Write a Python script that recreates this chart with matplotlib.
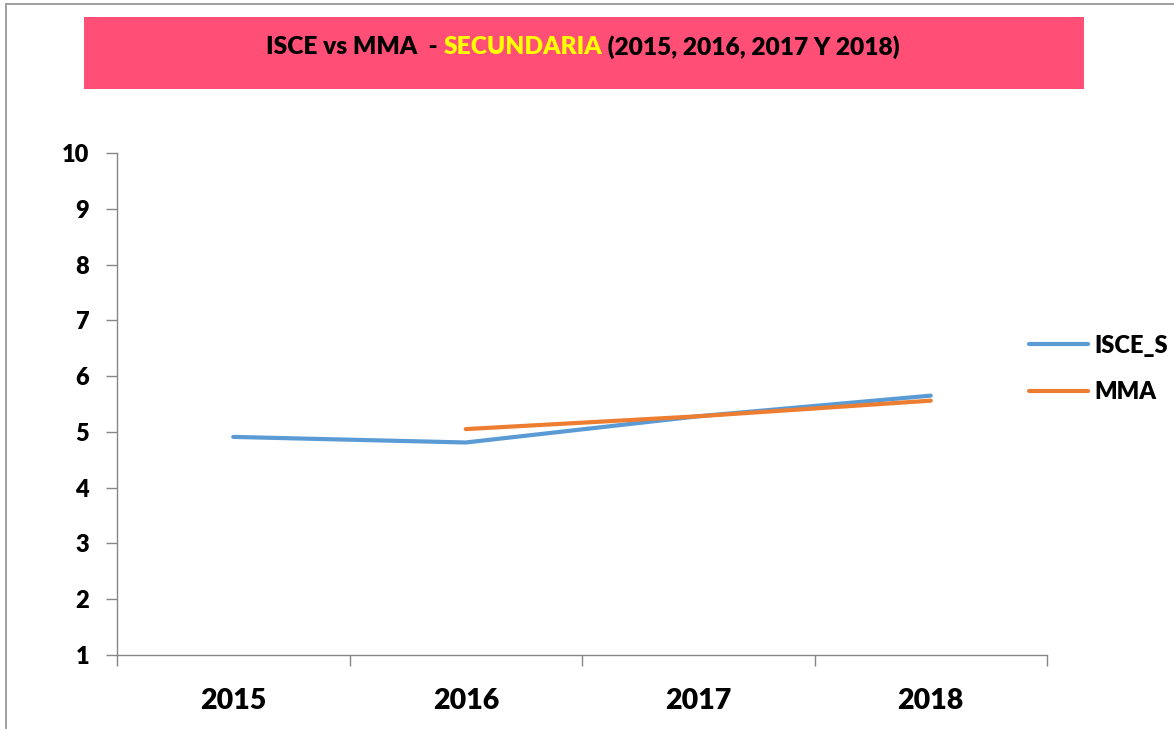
import matplotlib
matplotlib.use("Agg")
import matplotlib.pyplot as plt
from matplotlib.patches import Rectangle

years = ["2015", "2016", "2017", "2018"]
isce_s = [4.91, 4.81, 5.28, 5.65]
mma_years = ["2016", "2017", "2018"]
mma = [5.05, 5.28, 5.56]
y_ticks = list(range(1, 11))
title_parts = ["ISCE vs MMA  - ", "SECUNDARIA", " (2015, 2016, 2017 Y 2018)"]
title_colors = ["black", "#FFFF00", "black"]

W, H = 1174, 729
fig = plt.figure(figsize=(W / 100, H / 100), dpi=100)

# outer chart border (top and left visible)
fig.patches.append(Rectangle((6 / W, -0.01), 1.2, 1 - 4 / H + 0.01, transform=fig.transFigure,
                             fill=False, edgecolor="#A0A0A0", linewidth=1.4))

# pink title box
fig.patches.append(Rectangle((84 / W, 1 - 89 / H), 1000 / W, 72 / H, transform=fig.transFigure,
                             facecolor="#FF4F76", edgecolor="none"))

ax = fig.add_axes([117 / W, 1 - 655 / H, 930 / W, 502 / H])
x_isce = [years.index(y) for y in years]
x_mma = [years.index(y) for y in mma_years]
ax.plot(x_isce, isce_s, color="#5B9BD5", linewidth=3, solid_capstyle="round", label="ISCE_S")
ax.plot(x_mma, mma, color="#ED7D31", linewidth=3, solid_capstyle="round", label="MMA")

ax.set_xlim(-0.5, len(years) - 0.5)
ax.set_ylim(1, 10)
ax.set_yticks(y_ticks)
ax.set_xticks([i - 0.5 for i in range(len(years) + 1)])
ax.set_xticklabels([])
ax.set_xticks(range(len(years)), minor=True)
ax.set_xticklabels(years, minor=True, fontsize=20.5, fontweight="heavy", family="Lato")
ax.tick_params(axis="x", which="major", direction="out", length=8, color="#868686", width=1)
ax.tick_params(axis="x", which="minor", length=0, pad=24)
ax.tick_params(axis="y", direction="out", length=8, color="#868686", width=1, pad=12)
ax.set_yticklabels([str(v) for v in y_ticks], fontsize=17, fontweight="heavy", family="Lato")
for s in ["top", "right"]:
    ax.spines[s].set_visible(False)
for s in ["left", "bottom"]:
    ax.spines[s].set_color("#868686")
    ax.spines[s].set_linewidth(1)

leg = ax.legend(loc="center left", bbox_to_anchor=(1008 / W, 1 - 369 / H), bbox_transform=fig.transFigure,
                frameon=False, prop={"size": 17, "weight": "heavy", "family": "Lato"}, handlelength=2.5,
                handletextpad=0.25, labelspacing=1.05)

# multi-coloured title, sized to span the reference width
fig.canvas.draw()
renderer = fig.canvas.get_renderer()
texts = []
for part, col in zip(title_parts, title_colors):
    t = fig.text(0, 1 - 47 / H, part, color=col, fontsize=17, fontweight="heavy",
                 family="Lato", va="center", ha="left")
    texts.append(t)
total = sum(t.get_window_extent(renderer).width for t in texts)
size = 17 * 635 / total
for t in texts:
    t.set_fontsize(size)
widths = [t.get_window_extent(renderer).width for t in texts]
x0 = 583 - sum(widths) / 2
for t, w in zip(texts, widths):
    t.set_x(x0 / W)
    x0 += w

fig.savefig("out.png", dpi=100)
